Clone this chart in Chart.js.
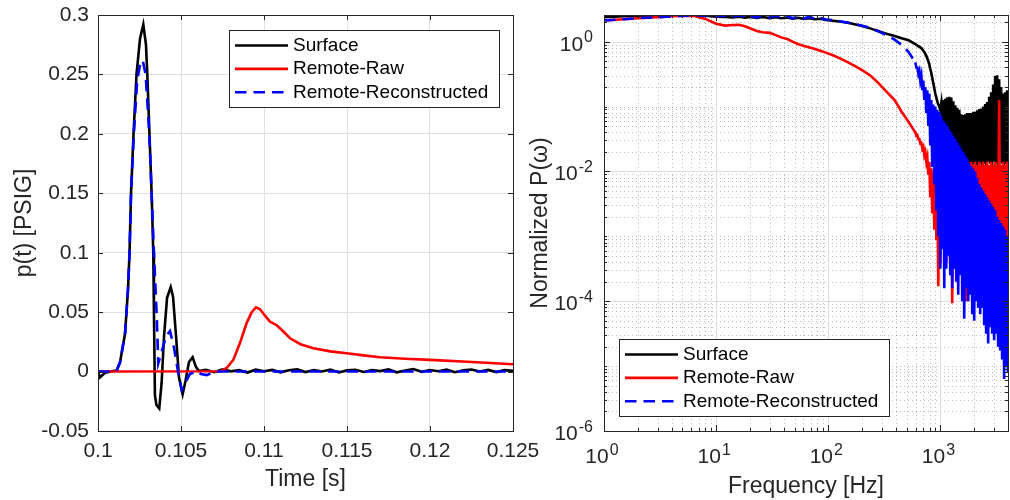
<!DOCTYPE html>
<html>
<head>
<meta charset="utf-8">
<script src="https://cdn.jsdelivr.net/npm/chart.js@4.4.1/dist/chart.umd.min.js"></script>
<style>
  html, body { margin: 0; padding: 0; background: #fff; }
  #wrap { position: relative; width: 1010px; height: 500px; overflow: hidden; }
  canvas { position: absolute; top: 0; }
  #timeChart { left: 0; }
  #freqChart { left: 520px; }
</style>
</head>
<body>
<div id="wrap">
  <canvas id="timeChart" width="540" height="500"></canvas>
  <canvas id="freqChart" width="490" height="500"></canvas>
</div>
<script>
const seriesNames = ["Surface", "Remote-Raw", "Remote-Reconstructed"];
const seriesColors = ["#000000", "#ff0000", "#0000ff"];

// pressure traces: time [s] and p(t) [PSIG]
const surfaceT = [0.1, 0.10012, 0.10042, 0.10078, 0.10113, 0.10133, 0.10163, 0.10181, 0.1019, 0.10199,
  0.10214, 0.10232, 0.10253, 0.10273, 0.10289, 0.10297, 0.1031, 0.10323, 0.10333, 0.10337,
  0.10343, 0.10352, 0.10369, 0.10383, 0.10398, 0.10416, 0.10438, 0.10452, 0.1047, 0.10488,
  0.1051, 0.10527, 0.10548, 0.1057, 0.1059, 0.10608,
  0.1065, 0.107, 0.1075, 0.108, 0.1085, 0.109, 0.1095, 0.11, 0.1105, 0.111, 0.1115, 0.112,
  0.1125, 0.113, 0.1135, 0.114, 0.1145, 0.115, 0.1155, 0.116, 0.1165, 0.117, 0.1175, 0.118,
  0.1185, 0.119, 0.1195, 0.12, 0.1205, 0.121, 0.1215, 0.122, 0.1225, 0.123, 0.1235, 0.124,
  0.1245, 0.125];
const surfaceP = [0, -0.005, -0.001, 0, 0.001, 0.008, 0.032, 0.07, 0.1, 0.15,
  0.2, 0.25, 0.28, 0.292, 0.275, 0.25, 0.2, 0.15, 0.1, 0.05,
  -0.02, -0.028, -0.031, -0.01, 0.03, 0.062, 0.071, 0.063, 0.03, -0.005,
  -0.019, -0.008, 0.008, 0.012, 0.004, 0.0005,
  0.0015, -0.0005, 0.0018, 0.0002, 0.0012, -0.0008, 0.0016, 0.0003, 0.0014, -0.0006, 0.0011, 0.0019,
  -0.0004, 0.0013, 0.0001, 0.0017, -0.0007, 0.001, 0.0015, -0.0003, 0.0012, 0.0004, 0.0018, -0.0006,
  0.0009, 0.0021, -0.0002, 0.0013, 0.0003, 0.0016, -0.0005, 0.0011, 0.0017, 0.0001, 0.0014, -0.0004,
  0.0012, 0.0006];

const rawT = [0.1, 0.1074, 0.10775, 0.10815, 0.10855, 0.10896, 0.10926, 0.10952, 0.10976, 0.11006,
  0.11036, 0.11077, 0.11107, 0.11157, 0.1122, 0.11297, 0.114, 0.11498, 0.116, 0.11699,
  0.1185, 0.12, 0.12281, 0.125];
const rawP = [0, 0.0003, 0.003, 0.0098, 0.024, 0.041, 0.05, 0.054, 0.0524, 0.047,
  0.042, 0.039, 0.035, 0.028, 0.023, 0.0196, 0.017, 0.0154, 0.0136, 0.012,
  0.0108, 0.0098, 0.0078, 0.0061];

const reconT = [0.1, 0.10078, 0.10113, 0.10133, 0.10163, 0.10181, 0.1019, 0.10199, 0.10216, 0.10236,
  0.10253, 0.10269, 0.10287, 0.10309, 0.10323, 0.10337, 0.10354, 0.10363, 0.10386, 0.1041,
  0.10434, 0.10458, 0.10482, 0.10504, 0.10524, 0.10554, 0.10595, 0.1062, 0.10655, 0.10687,
  0.10723, 0.125];
const reconP = [0, 0, 0.001, 0.008, 0.032, 0.07, 0.1, 0.15, 0.2, 0.245,
  0.258, 0.262, 0.25, 0.2, 0.15, 0.1, 0.046, 0.007, 0.018, 0.03,
  0.034, 0.02, 0, -0.0155, -0.01, -0.002, 0.0003, -0.002, -0.003, -0.001,
  0, 0];

// spectra on a shared frequency grid [Hz]; values are log10 of normalized P
const freqHz = [1, 1.5, 2, 3, 4, 5, 6.3, 8, 10, 12, 14, 16, 18, 20, 23, 26, 30, 34, 38, 43,
  48, 54, 60, 68, 76, 85, 95, 110, 130, 150, 175, 200, 240, 280, 330, 390, 450, 520,
  597, 609, 622, 635, 648, 661, 675, 689, 703, 718, 732, 748, 763, 779, 795, 811, 828, 845, 863, 881,
  899, 918, 937, 956, 976, 996, 1017, 1038, 1059, 1081, 1103, 1126, 1149, 1173, 1197, 1222, 1248, 1273,
  1300, 1327, 1354, 1382, 1411, 1440, 1470, 1500, 1531, 1563, 1595, 1628, 1662, 1697, 1732, 1768, 1804,
  1842, 1880, 1919, 1958, 1999, 2040, 2082, 2125, 2169, 2214, 2260, 2307, 2355, 2403, 2453, 2504, 2555,
  2608, 2662, 2717, 2774, 2831, 2890, 2949, 3011, 3073, 3136, 3201, 3267, 3335, 3404, 3474, 3546, 3620,
  3695, 3771, 3849, 3929, 4000];

const surfaceLogP = [0.376, 0.39, 0.397, 0.4, 0.405, 0.405, 0.405, 0.4, 0.385, 0.38, 0.372, 0.385, 0.37, 0.38, 0.365, 0.378, 0.362, 0.375, 0.36, 0.372,
  0.355, 0.368, 0.35, 0.362, 0.345, 0.352, 0.335, 0.32, 0.305, 0.29, 0.265, 0.24, 0.2, 0.16, 0.12, 0.085, 0.05, 0.02,
  -0.04, -0.05, -0.06, -0.07, -0.08, -0.09, -0.1, -0.12, -0.14, -0.16, -0.19, -0.22, -0.26, -0.3, -0.35, -0.42, -0.48, -0.56, -0.64, -0.72,
  -0.8, -0.86, -0.92, -0.97, -1.0, -1.05, -0.95, -1.25, -0.9, -1.3, -0.88, -1.3, -0.86, -1.35, -0.85, -1.4, -0.86, -1.5,
  -0.92, -1.6, -0.98, -1.7, -1.02, -1.8, -1.05, -1.85, -1.12, -1.9, -1.13, -1.9, -1.12, -1.88, -1.1, -1.9, -1.1,
  -1.88, -1.1, -1.9, -1.08, -1.88, -1.08, -1.9, -1.06, -1.9, -1.04, -1.88, -1.03, -1.9, -1.0, -1.88, -0.96, -1.9,
  -0.93, -1.85, -0.85, -1.88, -0.78, -1.9, -0.66, -1.85, -0.53, -1.88, -0.52, -1.9, -0.58, -1.85, -0.7, -1.88, -0.8,
  -1.9, -0.78, -1.88, -0.75, -1.85];

const rawLogP = [0.324, 0.345, 0.36, 0.376, 0.39, 0.397, 0.4, 0.35, 0.275, 0.247, 0.255, 0.258, 0.235, 0.205, 0.165, 0.145, 0.135, 0.1, 0.065, 0.04,
  0.0, -0.04, -0.065, -0.09, -0.115, -0.14, -0.17, -0.21, -0.265, -0.32, -0.38, -0.44, -0.53, -0.64, -0.77, -0.9, -1.08, -1.24,
  -1.4, -1.45, -1.44, -1.5, -1.5, -1.57, -1.56, -1.65, -1.62, -1.75, -1.7, -1.85, -1.78, -2.05, -1.85, -2.4, -1.95, -2.65, -2.0, -2.9,
  -2.05, -3.06, -2.1, -3.77, -2.1, -3.42, -2.0, -3.0, -2.1, -3.2, -2.0, -3.4, -2.05, -3.1, -2.0, -3.45, -2.0, -4.03,
  -1.95, -3.5, -2.0, -3.3, -1.9, -3.0, -1.95, -3.2, -1.9, -3.0, -1.85, -3.3, -1.9, -4.0, -1.85, -3.2, -1.9,
  -3.4, -1.85, -3.0, -1.9, -3.3, -1.85, -3.6, -1.9, -3.0, -1.85, -3.2, -1.9, -2.9, -1.85, -3.1, -1.9, -2.9,
  -1.85, -3.0, -1.9, -3.1, -1.85, -2.8, -1.9, -3.0, -1.85, -2.9, -1.9, -3.0, -0.9, -3.2, -1.9, -3.0, -1.85,
  -3.1, -1.9, -3.2, -1.85, -3.0];

const reconLogP = [0.324, 0.345, 0.36, 0.376, 0.39, 0.397, 0.405, 0.4, 0.39, 0.4, 0.38, 0.405, 0.38, 0.4, 0.37, 0.41, 0.37, 0.4, 0.365, 0.395,
  0.36, 0.39, 0.355, 0.38, 0.35, 0.365, 0.34, 0.33, 0.31, 0.29, 0.27, 0.245, 0.21, 0.16, 0.1, 0.03, -0.05, -0.16,
  -0.32, -0.4, -0.4, -0.5, -0.45, -0.6, -0.52, -0.75, -0.6, -0.9, -0.7, -1.1, -0.75, -1.3, -0.8, -1.6, -0.9, -1.93, -0.97, -2.2,
  -1.0, -2.6, -1.05, -3.0, -1.08, -3.5, -1.15, -3.2, -1.22, -3.8, -1.26, -3.5, -1.3, -3.3, -1.35, -3.6, -1.4, -3.8,
  -1.45, -3.5, -1.5, -3.7, -1.55, -3.9, -1.6, -3.6, -1.65, -4.0, -1.7, -4.27, -1.75, -3.8, -1.8, -4.0, -1.88,
  -3.9, -1.92, -4.2, -1.96, -4.3, -2.0, -4.0, -2.1, -4.1, -2.2, -4.2, -2.25, -4.1, -2.3, -4.37, -2.35, -4.5,
  -2.4, -4.65, -2.45, -4.4, -2.5, -4.5, -2.55, -4.6, -2.6, -4.5, -2.7, -4.7, -2.75, -4.76, -2.8, -4.9, -2.85,
  -5.2, -2.9, -5.0, -3.0, -5.1];

const timeTicks = [0.1, 0.105, 0.11, 0.115, 0.12, 0.125];
const pressureTicks = [-0.05, 0, 0.05, 0.1, 0.15, 0.2, 0.25, 0.3];
const freqDecades = [0, 1, 2, 3];
const powerDecades = [0, -2, -4, -6];

const AXIS = "#262626";
const FONT = '"Liberation Sans", Arial, Helvetica, sans-serif';
const dashPattern = [11.5, 7];
const lineWidth = 2.6;

function strokeLine(ctx, x1, y1, x2, y2) {
  ctx.beginPath();
  ctx.moveTo(x1, y1);
  ctx.lineTo(x2, y2);
  ctx.stroke();
}

// fixed axis box sizes; the plot area then comes from layout.padding alone
function fixBox(size) {
  return s => {
    if (s.isHorizontal()) s.height = size; else s.width = size;
    s.paddingTop = s.paddingBottom = s.paddingLeft = s.paddingRight = 0;
  };
}

// box round the plot with inward tick marks on all four sides
function drawFrame(chart, xMarks, yMarks) {
  const { ctx, chartArea: a, scales: { x, y } } = chart;
  ctx.save();
  ctx.strokeStyle = AXIS;
  ctx.lineWidth = 1;
  ctx.setLineDash([]);
  for (const m of xMarks) {
    const px = Math.round(x.getPixelForValue(m.v)) + 0.5;
    strokeLine(ctx, px, a.bottom, px, a.bottom - m.len);
    strokeLine(ctx, px, a.top, px, a.top + m.len);
  }
  for (const m of yMarks) {
    const py = Math.round(y.getPixelForValue(m.v)) + 0.5;
    strokeLine(ctx, a.left, py, a.left + m.len, py);
    strokeLine(ctx, a.right, py, a.right - m.len, py);
  }
  ctx.strokeRect(Math.round(a.left) + 0.5, Math.round(a.top) + 0.5,
    Math.round(a.right - a.left), Math.round(a.bottom - a.top));
  ctx.restore();
}

function drawLegend(chart, left, top) {
  const { ctx } = chart;
  const w = 270, h = 77;
  ctx.save();
  ctx.fillStyle = "#fff";
  ctx.fillRect(left, top, w, h);
  ctx.strokeStyle = AXIS;
  ctx.lineWidth = 1;
  ctx.strokeRect(left + 0.5, top + 0.5, w, h);
  chart.data.datasets.forEach((ds, i) => {
    const ry = top + 15.5 + i * 23.4;
    ctx.strokeStyle = ds.borderColor;
    ctx.lineWidth = ds.borderWidth;
    ctx.setLineDash(i === 2 ? dashPattern : []);
    strokeLine(ctx, left + 6, ry, left + 59, ry);
    ctx.setLineDash([]);
    ctx.fillStyle = "#000";
    ctx.font = "19px " + FONT;
    ctx.textAlign = "left";
    ctx.textBaseline = "middle";
    ctx.fillText(ds.label, left + 64, ry);
  });
  ctx.restore();
}

// "10" with a raised exponent
function drawPower(ctx, exp, x, y, align) {
  const base = "10", sup = String(exp);
  ctx.font = "21px " + FONT;
  const wb = ctx.measureText(base).width;
  ctx.font = "16px " + FONT;
  const ws = ctx.measureText(sup).width;
  const total = wb + 1 + ws;
  const left = align === "right" ? x - total : x - total / 2 - 2;
  ctx.fillStyle = AXIS;
  ctx.textAlign = "left";
  ctx.textBaseline = "middle";
  ctx.font = "21px " + FONT;
  ctx.fillText(base, left, y);
  ctx.font = "16px " + FONT;
  ctx.fillText(sup, left + wb + 1, y - 7);
}

function traceData(ts, ps) {
  return ts.map((t, i) => ({ x: t, y: ps[i] }));
}

function spectrumData(logs) {
  return freqHz.map((f, i) => ({ x: f, y: 10 ** logs[i] }));
}

const tickFmt = v => String(+(+v).toFixed(3));

const timeFrame = {
  id: "timeFrame",
  afterDraw(chart) {
    drawFrame(chart,
      timeTicks.map(v => ({ v, len: 5 })),
      pressureTicks.map(v => ({ v, len: 5 })));
    drawLegend(chart, chart.chartArea.left + 131, chart.chartArea.top + 15);
  }
};

new Chart(document.getElementById("timeChart"), {
  type: "line",
  data: {
    datasets: [
      { label: seriesNames[0], data: traceData(surfaceT, surfaceP), borderColor: seriesColors[0], order: 3 },
      { label: seriesNames[1], data: traceData(rawT, rawP), borderColor: seriesColors[1], order: 2 },
      { label: seriesNames[2], data: traceData(reconT, reconP), borderColor: seriesColors[2], order: 1, borderDash: dashPattern }
    ].map(d => Object.assign(d, { borderWidth: lineWidth, pointRadius: 0, tension: 0, fill: false }))
  },
  options: {
    responsive: false,
    animation: false,
    devicePixelRatio: 1,
    layout: { autoPadding: false, padding: { left: 0, right: 27, top: 15, bottom: 0 } },
    plugins: { legend: { display: false }, tooltip: { enabled: false } },
    scales: {
      x: {
        type: "linear", min: 0.1, max: 0.125,
        afterFit: fixBox(69),
        grid: { color: "#e0e0e0", drawTicks: false },
        border: { display: false },
        ticks: { stepSize: 0.005, autoSkip: false, maxRotation: 0, padding: 8, color: AXIS,
          font: { family: FONT, size: 21 }, callback: tickFmt },
        title: { display: true, text: "Time [s]", color: AXIS, padding: { top: 0, bottom: 7 },
          font: { family: FONT, size: 23 } }
      },
      y: {
        type: "linear", min: -0.05, max: 0.3,
        afterFit: fixBox(98),
        grid: { color: "#e0e0e0", drawTicks: false },
        border: { display: false },
        ticks: { stepSize: 0.05, autoSkip: false, padding: 9, color: AXIS,
          font: { family: FONT, size: 21 }, callback: tickFmt },
        title: { display: true, text: "p(t) [PSIG]", color: AXIS, padding: { top: 11, bottom: 0 },
          font: { family: FONT, size: 23 } }
      }
    }
  },
  plugins: [timeFrame]
});

// log grid, frame, power-of-ten labels and legend for the spectrum
const freqFrame = {
  id: "freqFrame",
  beforeDatasetsDraw(chart) {
    const { ctx, chartArea: a, scales: { x, y } } = chart;
    ctx.save();
    ctx.beginPath();
    ctx.rect(a.left, a.top, a.right - a.left, a.bottom - a.top);
    ctx.clip();
    ctx.lineWidth = 1;
    ctx.strokeStyle = "rgba(38,38,38,0.3)";
    ctx.setLineDash([1, 3]);
    for (let d = 0; d <= 3; d++) {
      for (let k = 2; k <= 9; k++) {
        const v = k * 10 ** d;
        if (v > x.max) break;
        const px = Math.round(x.getPixelForValue(v)) + 0.5;
        strokeLine(ctx, px, a.top, px, a.bottom);
      }
    }
    for (let d = -6; d <= 0; d++) {
      for (let k = 1; k <= 9; k++) {
        if (k === 1 && d % 2 === 0) continue;
        const v = k * 10 ** d;
        if (v > y.max) break;
        const py = Math.round(y.getPixelForValue(v)) + 0.5;
        strokeLine(ctx, a.left, py, a.right, py);
      }
    }
    ctx.setLineDash([]);
    ctx.strokeStyle = "#dedede";
    for (const d of freqDecades) {
      const px = Math.round(x.getPixelForValue(10 ** d)) + 0.5;
      strokeLine(ctx, px, a.top, px, a.bottom);
    }
    for (const d of powerDecades) {
      const py = Math.round(y.getPixelForValue(10 ** d)) + 0.5;
      strokeLine(ctx, a.left, py, a.right, py);
    }
    ctx.restore();
  },
  afterDraw(chart) {
    const { ctx, chartArea: a, scales: { x, y } } = chart;
    const xMarks = [], yMarks = [];
    for (let d = 0; d <= 3; d++) {
      for (let k = 1; k <= 9; k++) {
        const v = k * 10 ** d;
        if (v > x.max) break;
        xMarks.push({ v, len: k === 1 ? 6 : 3 });
      }
    }
    for (let d = -6; d <= 0; d++) {
      for (let k = 1; k <= 9; k++) {
        const v = k * 10 ** d;
        if (v > y.max) break;
        yMarks.push({ v, len: k === 1 && d % 2 === 0 ? 6 : 3 });
      }
    }
    drawFrame(chart, xMarks, yMarks);
    ctx.save();
    for (const d of freqDecades) {
      drawPower(ctx, d, x.getPixelForValue(10 ** d), a.bottom + 26.5, "center");
    }
    for (const d of powerDecades) {
      drawPower(ctx, d, a.left - 11, y.getPixelForValue(10 ** d) + 3.3, "right");
    }
    ctx.restore();
    drawLegend(chart, a.left + 15, a.top + 324);
  }
};

new Chart(document.getElementById("freqChart"), {
  type: "line",
  data: {
    datasets: [
      { label: seriesNames[0], data: spectrumData(surfaceLogP), borderColor: seriesColors[0], order: 3 },
      { label: seriesNames[1], data: spectrumData(rawLogP), borderColor: seriesColors[1], order: 2 },
      { label: seriesNames[2], data: spectrumData(reconLogP), borderColor: seriesColors[2], order: 1,
        borderDash: dashPattern,
        segment: { borderDash: c => (c.p0.parsed.x >= 590 ? [] : undefined) } }
    ].map(d => Object.assign(d, { borderWidth: lineWidth, pointRadius: 0, tension: 0, fill: false }))
  },
  options: {
    responsive: false,
    animation: false,
    devicePixelRatio: 1,
    layout: { autoPadding: false, padding: { left: 0, right: 2, top: 15, bottom: 0 } },
    plugins: { legend: { display: false }, tooltip: { enabled: false } },
    scales: {
      x: {
        type: "logarithmic", min: 1, max: 4000,
        afterFit: fixBox(69),
        grid: { display: false },
        border: { display: false },
        ticks: { display: false },
        title: { display: true, text: "Frequency [Hz]", color: AXIS, padding: { top: 0, bottom: 0 },
          font: { family: FONT, size: 23 } }
      },
      y: {
        type: "logarithmic", min: 1e-6, max: 2.57,
        afterFit: fixBox(84),
        grid: { display: false },
        border: { display: false },
        ticks: { display: false },
        title: { display: true, text: "Normalized P(ω)", color: AXIS, padding: { top: 7, bottom: 0 },
          font: { family: FONT, size: 23 } }
      }
    }
  },
  plugins: [freqFrame]
});
</script>
</body>
</html>
